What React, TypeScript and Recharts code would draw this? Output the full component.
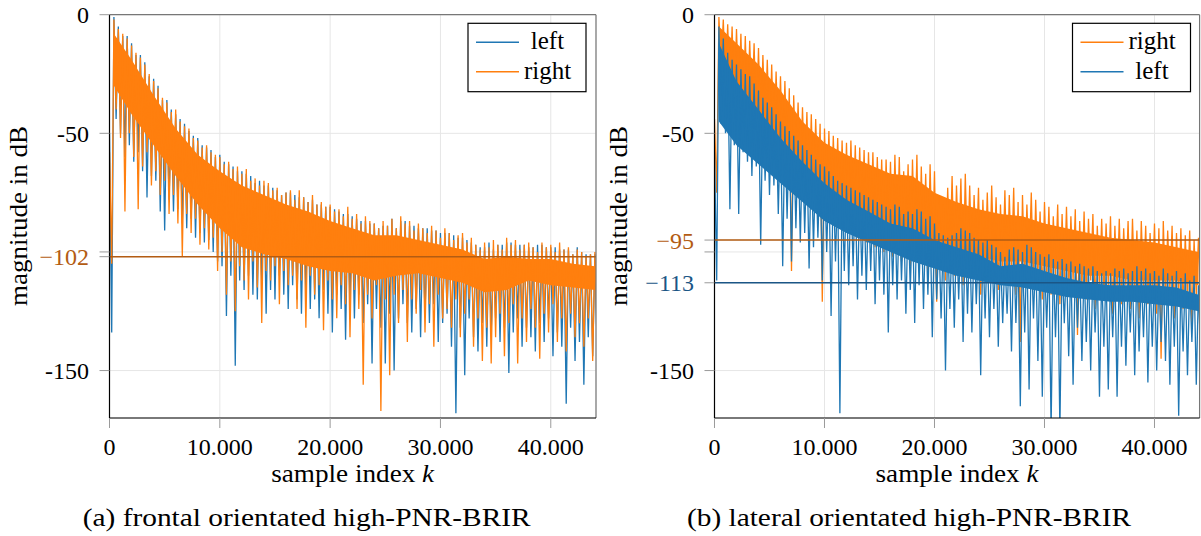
import React from 'react';
import { ComposedChart, Line, Area, XAxis, YAxis, CartesianGrid, ReferenceLine } from 'recharts';

// every bin holds one peak (at i*STEP) and one dip (at i*STEP + STEP/2)
const STEP = 400;
const K_MAX = 44100;

const xTicks = [0, 10000, 20000, 30000, 40000];
const frontalTicks = [0, -50, -100, -102, -150];
const lateralTicks = [0, -50, -95, -100, -113, -150];

// sample positions of the dense (solid looking) core of each trace
const coreK = [
  400, 2000, 4000, 6000, 8000, 10000, 12000, 14000, 16000, 18000, 20000, 22000,
  24000, 26000, 28000, 30000, 32000, 34000, 36000, 38000, 40000, 42000, 44000,
];

// (a) frontal – left ear (blue)
const frontalLeftHi = [
  -50, -1, -5, -9, -9, -12, -17, -17, -20, -26,
  -27, -30, -36, -36, -40, -42, -44, -46, -49, -51,
  -52, -55, -56, -57, -60, -59, -62, -63, -64, -66,
  -66, -67, -68, -71, -70, -72, -72, -73, -74, -76,
  -75, -75, -76, -77, -77, -79, -78, -80, -80, -81,
  -81, -82, -83, -84, -84, -85, -86, -87, -87, -88,
  -88, -90, -89, -89, -86, -90, -87, -87, -89, -89,
  -90, -90, -90, -91, -91, -92, -92, -92, -93, -94,
  -94, -95, -96, -97, -98, -98, -96, -99, -97, -97,
  -96, -96, -97, -97, -97, -98, -98, -97, -97, -98,
  -98, -98, -99, -99, -99, -101, -98, -100, -101, -101, -101,
];
const frontalLeftLo = [
  -134, -44, -50, -60, -55, -62, -58, -66, -77, -68,
  -70, -83, -91, -78, -83, -82, -88, -90, -86, -94,
  -92, -96, -95, -100, -104, -106, -127, -110, -148, -112,
  -116, -110, -118, -120, -112, -126, -116, -120, -110, -118,
  -124, -114, -120, -126, -116, -124, -120, -128, -116, -126,
  -134, -118, -124, -137, -120, -128, -118, -130, -122, -147,
  -124, -132, -147, -126, -150, -128, -122, -130, -134, -124,
  -136, -126, -130, -122, -138, -130, -126, -140, -168, -132,
  -152, -128, -136, -142, -130, -140, -134, -128, -138, -132,
  -151, -134, -128, -140, -132, -136, -142, -130, -138, -128,
  -144, -134, -140, -164, -132, -146, -138, -156, -136, -144, -140,
];
const frontalLeftCoreTop = [
  -9, -20, -35, -49, -60, -67, -73, -77, -81, -84, -88, -91,
  -94, -94, -96, -98, -100, -104, -103, -104, -104, -106, -107,
];
const frontalLeftCoreBottom = [
  -27, -39, -52, -65, -77, -87, -95, -98, -100, -103, -105, -106,
  -109, -107, -106, -108, -110, -114, -113, -109, -111, -112, -113,
];

// (a) frontal – right ear (orange)
const frontalRightHi = [
  -58, -2, -6, -8, -10, -13, -16, -18, -21, -25,
  -28, -31, -35, -37, -41, -40, -45, -47, -48, -52,
  -53, -56, -55, -58, -59, -60, -63, -62, -65, -64,
  -67, -65, -70, -69, -72, -70, -71, -74, -73, -76,
  -75, -74, -78, -74, -77, -79, -76, -80, -79, -81,
  -80, -83, -82, -85, -81, -86, -84, -88, -85, -87,
  -88, -90, -87, -89, -86, -90, -85, -88, -87, -91,
  -88, -90, -92, -89, -91, -94, -90, -92, -95, -93,
  -92, -96, -94, -97, -99, -96, -98, -95, -97, -99,
  -94, -97, -95, -99, -97, -96, -98, -100, -96, -98,
  -97, -100, -96, -99, -98, -101, -99, -100, -102, -101, -100,
];
const frontalRightLo = [
  -105, -40, -52, -83, -50, -60, -82, -64, -58, -72,
  -66, -76, -70, -84, -76, -88, -102, -84, -92, -86,
  -97, -90, -99, -94, -108, -100, -118, -104, -125, -106,
  -112, -120, -104, -115, -130, -108, -112, -106, -122, -108,
  -114, -110, -124, -112, -132, -110, -118, -114, -133, -112,
  -120, -128, -114, -122, -136, -116, -124, -156, -118, -128,
  -114, -167, -120, -152, -118, -130, -116, -138, -120, -126,
  -116, -134, -122, -140, -118, -128, -124, -132, -120, -136,
  -126, -120, -140, -128, -146, -132, -147, -136, -126, -144,
  -130, -122, -147, -128, -138, -124, -132, -145, -126, -134,
  -122, -138, -128, -142, -126, -136, -130, -140, -128, -146, -134,
];
const frontalRightCoreTop = [
  -8, -19, -34, -48, -59, -66, -72, -76, -80, -83, -87, -90,
  -93, -93, -95, -97, -99, -103, -102, -103, -103, -105, -106,
];
const frontalRightCoreBottom = [
  -30, -42, -55, -68, -80, -90, -98, -101, -103, -106, -108, -109,
  -112, -110, -109, -111, -113, -117, -116, -112, -114, -115, -116,
];

// (b) lateral – right ear (orange)
const lateralRightHi = [
  -44, -1, -2, -4, -5, -6, -8, -9, -11, -12,
  -14, -17, -19, -21, -24, -26, -28, -31, -34, -37,
  -39, -41, -42, -44, -46, -48, -49, -51, -52, -53,
  -54, -53, -55, -56, -57, -58, -58, -60, -61, -61,
  -62, -59, -60, -66, -63, -61, -59, -64, -67, -63,
  -66, -76, -80, -73, -68, -72, -69, -67, -72, -76,
  -73, -78, -75, -72, -77, -80, -74, -76, -73, -79,
  -76, -80, -75, -78, -83, -79, -81, -85, -80, -84,
  -81, -85, -82, -87, -83, -86, -84, -89, -86, -88,
  -85, -89, -86, -90, -87, -86, -91, -87, -89, -92,
  -88, -90, -87, -91, -89, -92, -90, -93, -91, -95, -94,
];
const lateralRightLo = [
  -75, -22, -30, -34, -38, -36, -42, -44, -40, -48,
  -50, -47, -55, -58, -56, -64, -66, -108, -68, -74,
  -72, -78, -80, -77, -121, -84, -86, -82, -90, -88,
  -92, -86, -94, -91, -96, -90, -98, -95, -100, -94,
  -102, -97, -104, -100, -106, -98, -108, -102, -110, -104,
  -121, -106, -112, -104, -110, -102, -114, -106, -110, -104,
  -118, -108, -112, -106, -116, -110, -114, -108, -118, -138,
  -112, -106, -116, -110, -120, -112, -118, -110, -122, -114,
  -118, -112, -135, -116, -120, -112, -124, -116, -120, -114,
  -126, -116, -122, -114, -124, -118, -128, -116, -122, -118,
  -126, -145, -120, -116, -128, -118, -124, -120, -130, -118, -126,
];
const lateralRightCoreTop = [
  -5, -12, -21, -32, -45, -54, -59, -63, -67, -68, -75, -79,
  -82, -84, -85, -88, -90, -92, -94, -95, -96, -98, -100,
];
const lateralRightCoreBottom = [
  -20, -30, -42, -55, -66, -74, -80, -84, -88, -92, -98, -100,
  -102, -104, -104, -106, -108, -110, -110, -112, -112, -112, -114,
];

// (b) lateral – left ear (blue)
const lateralLeftHi = [
  -58, -5, -10, -16, -19, -21, -23, -25, -26, -29,
  -32, -35, -37, -39, -42, -45, -47, -49, -51, -53,
  -55, -57, -59, -61, -63, -64, -66, -68, -70, -71,
  -72, -73, -74, -75, -76, -77, -78, -79, -80, -81,
  -82, -80, -81, -84, -83, -84, -82, -83, -86, -85,
  -88, -92, -93, -94, -93, -92, -90, -91, -92, -94,
  -95, -96, -95, -97, -98, -100, -102, -99, -98, -99,
  -100, -97, -98, -100, -101, -102, -101, -103, -104, -103,
  -105, -104, -106, -105, -106, -107, -106, -108, -109, -108,
  -109, -107, -108, -107, -109, -108, -106, -108, -107, -109,
  -108, -110, -107, -109, -110, -108, -111, -109, -112, -110, -114,
];
const lateralLeftLo = [
  -112, -46, -50, -82, -55, -84, -58, -62, -68, -64,
  -97, -70, -76, -72, -84, -106, -86, -104, -90, -96,
  -92, -107, -98, -94, -112, -100, -127, -104, -168, -108,
  -114, -106, -120, -110, -116, -108, -122, -112, -118, -134,
  -114, -120, -112, -126, -116, -130, -114, -124, -118, -136,
  -120, -128, -150, -124, -132, -120, -138, -126, -134, -122,
  -152, -128, -136, -124, -140, -130, -126, -142, -130, -165,
  -134, -158, -128, -146, -161, -132, -175, -136, -175, -130,
  -144, -156, -132, -146, -138, -150, -134, -161, -140, -158,
  -136, -161, -140, -148, -134, -152, -142, -136, -155, -140,
  -150, -138, -146, -156, -140, -169, -142, -152, -138, -156, -146,
];
const lateralLeftCoreTop = [
  -12, -28, -40, -52, -62, -71, -78, -83, -88, -90, -95, -98,
  -101, -106, -105, -108, -111, -113, -114, -114, -114, -115, -118,
];
const lateralLeftCoreBottom = [
  -45, -55, -63, -71, -79, -87, -92, -96, -100, -104, -107, -110,
  -112, -114, -115, -117, -119, -120, -121, -121, -122, -123, -125,
];

const BLUE = '#1f77b4';
const ORANGE = '#ff7f0e';
const ORANGE_DARK = '#b35c13';
const BLUE_DARK = '#1b5686';
const FONT =
  "'Liberation Serif', Tinos, 'Times New Roman', 'Noto Serif', 'DejaVu Serif', FreeSerif, 'Nimbus Roman', serif";

type Pt = { k: number; db: number };
type Band = { k: number; band: [number, number] };

function pairs(hi: number[], lo: number[]): Pt[] {
  const out: Pt[] = [];
  hi.forEach((v, i) => {
    out.push({ k: i * STEP, db: v });
    if (lo[i] !== undefined) out.push({ k: i * STEP + STEP / 2, db: lo[i] });
  });
  return out;
}

function band(top: number[], bottom: number[]): Band[] {
  return coreK.map((k, i) => ({ k, band: [bottom[i], top[i]] }));
}

const fmtK = (v: number) => (v === 0 ? '0' : `${v / 1000}.000`);

const XTick = (props: any) => {
  const { x, y, payload } = props;
  return (
    <text x={x} y={y + 25} textAnchor="middle" fontFamily={FONT} fontSize={24} fill="#000">
      {fmtK(payload.value)}
    </text>
  );
};

function makeYTick(special: Record<number, string>) {
  return (props: any) => {
    const { x, y, payload } = props;
    const v = payload.value;
    if (v === -100) return <g />;
    const color = special[v];
    const label = color ? `\u2212${-v}` : String(v);
    return (
      <text x={x} y={y + 8.7} textAnchor="end" fontFamily={FONT} fontSize={24} fill={color ?? '#000'}>
        {label}
      </text>
    );
  };
}

interface Series {
  name: string;
  color: string;
  data: Pt[];
  core: Band[];
}

interface PanelProps {
  left: number;
  width: number;
  marginRight: number;
  series: Series[];
  ticks: number[];
  floors: { value: number; color: string }[];
}

function Panel({ left, width, marginRight, series, ticks, floors }: PanelProps) {
  const special: Record<number, string> = {};
  floors.forEach((f) => (special[f.value] = f.color));
  return (
    <div style={{ position: 'absolute', left, top: 0 }}>
      <ComposedChart
        width={width}
        height={536}
        margin={{ top: 14.7, right: marginRight, bottom: 78, left: 49.5 }}
      >
        <CartesianGrid stroke="#e6e6e6" />
        <XAxis
          dataKey="k"
          type="number"
          domain={[0, K_MAX]}
          allowDataOverflow
          ticks={xTicks}
          interval={0}
          tick={XTick}
          tickSize={10}
          tickLine={{ stroke: '#9a9a9a' }}
          axisLine={{ stroke: '#000', strokeWidth: 1.2 }}
          height={40}
        />
        <YAxis
          type="number"
          domain={[-170, 0]}
          allowDataOverflow
          ticks={ticks}
          interval={0}
          tick={makeYTick(special)}
          tickSize={10}
          tickMargin={10.5}
          tickLine={{ stroke: '#9a9a9a' }}
          axisLine={{ stroke: '#000', strokeWidth: 1.2 }}
          width={60}
        />
        {series.flatMap((s, j) => [
          <Area
            key={`${s.name}-core`}
            data={s.core}
            dataKey="band"
            type="linear"
            stroke="none"
            fill={s.color}
            fillOpacity={1}
            dot={false}
            activeDot={false}
            isAnimationActive={false}
            zIndex={401 + j * 2}
          />,
          <Line
            key={`${s.name}-trace`}
            data={s.data}
            dataKey="db"
            type="linear"
            stroke={s.color}
            strokeWidth={1.3}
            dot={false}
            activeDot={false}
            isAnimationActive={false}
            zIndex={402 + j * 2}
          />,
        ])}
        {floors.map((f) => (
          <ReferenceLine key={f.value} y={f.value} stroke={f.color} strokeWidth={1.6} zIndex={450} />
        ))}
        <ReferenceLine y={0} stroke="#777" strokeWidth={1.2} zIndex={450} />
        <ReferenceLine x={K_MAX} stroke="#777" strokeWidth={1.2} zIndex={450} />
      </ComposedChart>
    </div>
  );
}

function LegendBox({ x, rows }: { x: number; rows: { label: string; color: string }[] }) {
  return (
    <g>
      <rect x={x} y={23.3} width={118} height={68.4} fill="#fff" stroke="#000" strokeWidth={1.2} />
      {rows.map((r, i) => {
        const y = 42.3 + i * 29.4;
        return (
          <g key={r.label}>
            <line x1={x + 8} x2={x + 51} y1={y} y2={y} stroke={r.color} strokeWidth={1.5} />
            <text x={x + 79.5} y={y + 7} textAnchor="middle" fontFamily={FONT} fontSize={25}>
              {r.label}
            </text>
          </g>
        );
      })}
    </g>
  );
}

export default function App() {
  const frontal: Series[] = [
    {
      name: 'left',
      color: BLUE,
      data: pairs(frontalLeftHi, frontalLeftLo),
      core: band(frontalLeftCoreTop, frontalLeftCoreBottom),
    },
    {
      name: 'right',
      color: ORANGE,
      data: pairs(frontalRightHi, frontalRightLo),
      core: band(frontalRightCoreTop, frontalRightCoreBottom),
    },
  ];
  const lateral: Series[] = [
    {
      name: 'right',
      color: ORANGE,
      data: pairs(lateralRightHi, lateralRightLo),
      core: band(lateralRightCoreTop, lateralRightCoreBottom),
    },
    {
      name: 'left',
      color: BLUE,
      data: pairs(lateralLeftHi, lateralLeftLo),
      core: band(lateralLeftCoreTop, lateralLeftCoreBottom),
    },
  ];

  return (
    <div style={{ position: 'fixed', left: 0, top: 0, width: 1201, height: 536, background: '#fff' }}>
      <Panel
        left={0}
        width={600}
        marginRight={4}
        series={frontal}
        ticks={frontalTicks}
        floors={[{ value: -102, color: ORANGE_DARK }]}
      />
      <Panel
        left={604.8}
        width={596.2}
        marginRight={1.6}
        series={lateral}
        ticks={lateralTicks}
        floors={[
          { value: -95, color: ORANGE_DARK },
          { value: -113, color: BLUE_DARK },
        ]}
      />
      <svg
        width={1201}
        height={536}
        style={{ position: 'absolute', left: 0, top: 0, pointerEvents: 'none' }}
        fontFamily={FONT}
      >
        <LegendBox x={468} rows={[{ label: 'left', color: BLUE }, { label: 'right', color: ORANGE }]} />
        <LegendBox x={1072.5} rows={[{ label: 'right', color: ORANGE }, { label: 'left', color: BLUE }]} />

        <text x={27} y={216} transform="rotate(-90 27 216)" textAnchor="middle" fontSize={25} textLength={180} lengthAdjust="spacingAndGlyphs">
          magnitude in dB
        </text>
        <text x={627} y={216} transform="rotate(-90 627 216)" textAnchor="middle" fontSize={25} textLength={180} lengthAdjust="spacingAndGlyphs">
          magnitude in dB
        </text>

        <text x={352.7} y={482} textAnchor="middle" fontSize={25} textLength={163} lengthAdjust="spacingAndGlyphs">
          sample index <tspan fontStyle="italic">k</tspan>
        </text>
        <text x={957} y={482} textAnchor="middle" fontSize={25} textLength={163} lengthAdjust="spacingAndGlyphs">
          sample index <tspan fontStyle="italic">k</tspan>
        </text>

        <text x={306.7} y={526} textAnchor="middle" fontSize={25} textLength={448} lengthAdjust="spacingAndGlyphs">
          (a) frontal orientated high-PNR-BRIR
        </text>
        <text x={909} y={526} textAnchor="middle" fontSize={25} textLength={444} lengthAdjust="spacingAndGlyphs">
          (b) lateral orientated high-PNR-BRIR
        </text>
      </svg>
    </div>
  );
}
